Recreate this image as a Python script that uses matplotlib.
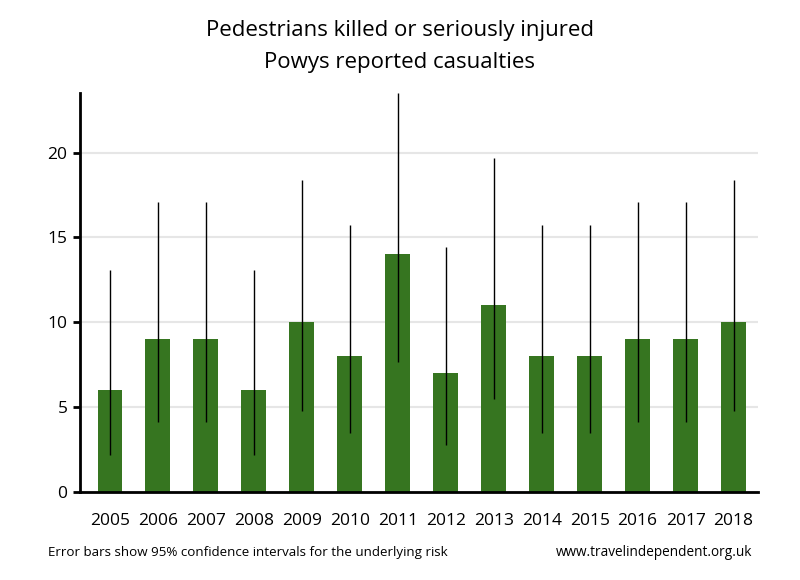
import matplotlib.pyplot as plt

# data
years = ["2005", "2006", "2007", "2008", "2009", "2010", "2011",
         "2012", "2013", "2014", "2015", "2016", "2017", "2018"]
casualties = [6, 9, 9, 6, 10, 8, 14, 7, 11, 8, 8, 9, 9, 10]
ci_low = [2.2, 4.1, 4.1, 2.2, 4.8, 3.45, 7.65, 2.8, 5.5, 3.45, 3.45, 4.1, 4.1, 4.8]
ci_high = [13.06, 17.08, 17.08, 13.06, 18.39, 15.76, 23.49, 14.42, 19.68,
           15.76, 15.76, 17.08, 17.08, 18.39]

plt.rcParams['font.family'] = ['Open Sans', 'DejaVu Sans']

fig = plt.figure(figsize=(8, 5.8), dpi=100)
ax = fig.add_axes([0.1, 0.1517, 0.8475, 0.6875])

x = list(range(len(years)))
ax.bar(x, casualties, width=0.52, color="#367520", zorder=2)

# error bars as plain vertical lines
ax.vlines(x, ci_low, ci_high, color="black", linewidth=1, zorder=3)

# axes styling
ax.set_xlim(-0.625, 13.51)
ax.set_ylim(0, 23.5)
ax.set_yticks([0, 5, 10, 15, 20])
ax.set_xticks(x)
ax.set_xticklabels(years)
ax.grid(axis="y", color="#e6e6e6", linewidth=1.5, zorder=0)
ax.set_axisbelow(True)
for side in ["top", "right"]:
    ax.spines[side].set_visible(False)
ax.spines["left"].set_linewidth(2)
ax.spines["bottom"].set_linewidth(2)
ax.tick_params(axis="x", length=0, pad=15, labelsize=12.5)
ax.tick_params(axis="y", length=5, width=2, pad=4, labelsize=12.5)

# titles and footnotes
fig.text(0.5, 0.948, "Pedestrians killed or seriously injured", ha="center",
         va="center", fontsize=16)
fig.text(0.5, 0.893, "Powys reported casualties", ha="center",
         va="center", fontsize=16)
fig.text(0.06, 0.047, "Error bars show 95% confidence intervals for the underlying risk",
         ha="left", va="center", fontsize=9.6)
fig.text(0.94, 0.047, "www.travelindependent.org.uk",
         ha="right", va="center", fontsize=9.8)

plt.savefig("out.png", dpi=100)
